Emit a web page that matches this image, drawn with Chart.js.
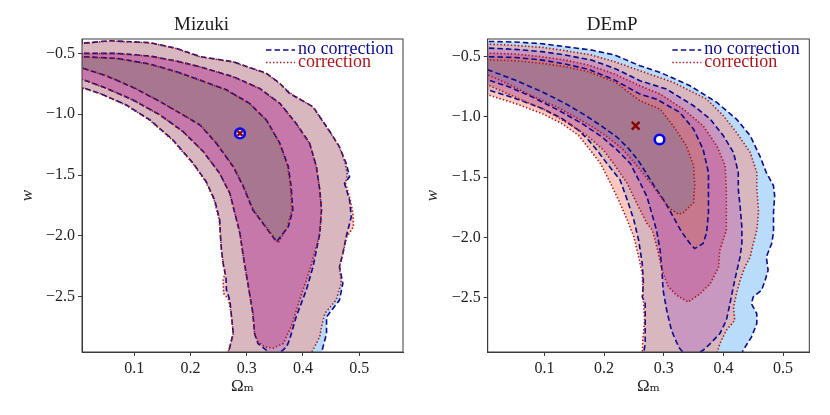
<!DOCTYPE html>
<html lang="en">
<head>
<meta charset="UTF-8">
<title>Mizuki / DEmP contours</title>
<style>
  body { margin: 0; background: #fff; }
  .panel { position: absolute; top: 0; width: 415px; height: 415px; }
  #left { left: 0; }
  #right { left: 415px; }
</style>
<script src="https://cdn.jsdelivr.net/npm/chart.js"></script>
</head>
<body>
<div class="panel" id="left"><canvas id="mizukiChart"></canvas></div>
<div class="panel" id="right"><canvas id="dempChart"></canvas></div>
<script>
// ---- data (Omega_m, w) ----
const panelTitles = ['Mizuki', 'DEmP'];
const legendLabels = ['no correction', 'correction'];
const xTicks = [0.1, 0.2, 0.3, 0.4, 0.5];
const xTickLabels = ['0.1', '0.2', '0.3', '0.4', '0.5'];
const yTicks = [-0.5, -1.0, -1.5, -2.0, -2.5];
const yTickLabels = ['\u22120.5', '\u22121.0', '\u22121.5', '\u22122.0', '\u22122.5'];

const mizukiXRange = [0.007, 0.578];
const mizukiYRange = [-2.955, -0.382];
const dempXRange = [0.005, 0.544];
const dempYRange = [-2.95, -0.353];

// best-fit points
const mizukiBestNoCorr = [0.288, -1.158];
const mizukiBestCorr = [0.288, -1.158];
const dempBestNoCorr = [0.293, -1.187];
const dempBestCorr = [0.253, -1.073];

// Mizuki contours (3 = outer, 1 = inner)
const mizukiBlue3 = [[-0.05,-0.41],[0.006,-0.418],[0.057,-0.396],[0.128,-0.412],[0.175,-0.459],[0.217,-0.527],[0.276,-0.569],[0.335,-0.664],[0.359,-0.747],[0.376,-0.829],[0.418,-0.939],[0.430,-1.021],[0.448,-1.144],[0.465,-1.268],[0.477,-1.405],[0.483,-1.514],[0.474,-1.569],[0.483,-1.706],[0.486,-1.843],[0.477,-2.008],[0.471,-2.145],[0.465,-2.254],[0.471,-2.391],[0.465,-2.528],[0.442,-2.666],[0.442,-2.803],[0.433,-2.962],[0.43,-3.2],[0.267,-3.2],[0.267,-2.967],[0.270,-2.912],[0.276,-2.803],[0.273,-2.666],[0.270,-2.528],[0.264,-2.446],[0.263,-2.337],[0.259,-2.254],[0.255,-2.117],[0.253,-1.980],[0.252,-1.871],[0.243,-1.706],[0.228,-1.555],[0.205,-1.405],[0.169,-1.213],[0.128,-1.048],[0.086,-0.925],[0.039,-0.829],[0.006,-0.780],[-0.05,-0.76]];
const mizukiRed3 = [[-0.05,-0.41],[0.006,-0.420],[0.057,-0.398],[0.128,-0.414],[0.175,-0.461],[0.217,-0.529],[0.276,-0.571],[0.335,-0.666],[0.359,-0.750],[0.371,-0.800],[0.380,-0.835],[0.418,-0.942],[0.430,-1.024],[0.448,-1.147],[0.465,-1.271],[0.475,-1.400],[0.479,-1.500],[0.476,-1.570],[0.484,-1.700],[0.489,-1.816],[0.490,-1.925],[0.478,-2.010],[0.471,-2.145],[0.465,-2.254],[0.468,-2.391],[0.459,-2.528],[0.439,-2.638],[0.433,-2.748],[0.430,-2.830],[0.415,-2.962],[0.41,-3.2],[0.265,-3.2],[0.266,-2.967],[0.270,-2.912],[0.276,-2.803],[0.273,-2.666],[0.268,-2.528],[0.259,-2.474],[0.258,-2.364],[0.262,-2.300],[0.259,-2.254],[0.255,-2.117],[0.253,-1.980],[0.251,-1.871],[0.242,-1.706],[0.227,-1.555],[0.204,-1.405],[0.168,-1.213],[0.127,-1.048],[0.085,-0.925],[0.039,-0.831],[0.006,-0.782],[-0.05,-0.76]];
const mizukiBlue2 = [[-0.05,-0.49],[0.006,-0.500],[0.069,-0.500],[0.128,-0.522],[0.175,-0.563],[0.217,-0.610],[0.276,-0.692],[0.323,-0.788],[0.359,-0.911],[0.388,-1.076],[0.412,-1.240],[0.424,-1.432],[0.430,-1.624],[0.433,-1.788],[0.430,-1.980],[0.418,-2.254],[0.406,-2.446],[0.388,-2.666],[0.376,-2.857],[0.371,-2.912],[0.359,-2.962],[0.352,-2.99],[0.340,-2.99],[0.335,-2.940],[0.320,-2.885],[0.314,-2.803],[0.311,-2.638],[0.302,-2.391],[0.294,-2.172],[0.288,-1.980],[0.279,-1.816],[0.270,-1.651],[0.252,-1.487],[0.223,-1.309],[0.187,-1.144],[0.146,-1.007],[0.098,-0.884],[0.051,-0.788],[0.006,-0.711],[-0.05,-0.69]];
const mizukiRed2 = [[-0.05,-0.49],[0.006,-0.502],[0.069,-0.502],[0.128,-0.524],[0.175,-0.565],[0.217,-0.612],[0.276,-0.694],[0.323,-0.790],[0.359,-0.913],[0.388,-1.078],[0.412,-1.242],[0.424,-1.434],[0.430,-1.626],[0.433,-1.790],[0.430,-1.982],[0.412,-2.282],[0.394,-2.528],[0.379,-2.748],[0.365,-2.885],[0.347,-2.923],[0.332,-2.912],[0.320,-2.871],[0.314,-2.803],[0.311,-2.640],[0.302,-2.393],[0.294,-2.174],[0.288,-1.982],[0.279,-1.818],[0.270,-1.653],[0.252,-1.489],[0.223,-1.311],[0.187,-1.146],[0.146,-1.009],[0.098,-0.886],[0.051,-0.790],[0.006,-0.713],[-0.05,-0.69]];
const mizukiBlue1 = [[-0.05,-0.52],[0.006,-0.527],[0.069,-0.541],[0.128,-0.588],[0.175,-0.651],[0.217,-0.720],[0.264,-0.800],[0.305,-0.911],[0.335,-1.048],[0.359,-1.240],[0.374,-1.432],[0.379,-1.596],[0.382,-1.788],[0.374,-1.925],[0.353,-2.049],[0.329,-1.898],[0.311,-1.788],[0.294,-1.596],[0.276,-1.432],[0.246,-1.240],[0.217,-1.089],[0.187,-1.007],[0.146,-0.897],[0.098,-0.780],[0.051,-0.686],[0.006,-0.618],[-0.05,-0.60]];
const mizukiRed1 = [[-0.05,-0.52],[0.006,-0.529],[0.069,-0.543],[0.128,-0.590],[0.175,-0.653],[0.217,-0.722],[0.264,-0.802],[0.305,-0.913],[0.335,-1.050],[0.359,-1.242],[0.373,-1.434],[0.378,-1.598],[0.380,-1.790],[0.372,-1.930],[0.356,-2.060],[0.330,-1.900],[0.312,-1.790],[0.295,-1.598],[0.277,-1.434],[0.247,-1.242],[0.218,-1.091],[0.188,-1.009],[0.147,-0.899],[0.099,-0.782],[0.052,-0.688],[0.006,-0.620],[-0.05,-0.60]];

// DEmP contours
const dempBlue3 = [[-0.05,-0.37],[0.005,-0.373],[0.051,-0.378],[0.096,-0.392],[0.135,-0.417],[0.179,-0.445],[0.218,-0.486],[0.260,-0.575],[0.294,-0.630],[0.344,-0.741],[0.389,-0.879],[0.422,-1.018],[0.445,-1.156],[0.461,-1.322],[0.472,-1.461],[0.484,-1.571],[0.486,-1.654],[0.484,-1.793],[0.484,-1.959],[0.481,-2.050],[0.472,-2.161],[0.475,-2.272],[0.470,-2.355],[0.464,-2.438],[0.450,-2.493],[0.447,-2.549],[0.456,-2.632],[0.456,-2.715],[0.447,-2.826],[0.433,-2.936],[0.431,-2.970],[0.43,-3.2],[0.266,-3.2],[0.266,-2.970],[0.269,-2.881],[0.269,-2.715],[0.269,-2.549],[0.264,-2.493],[0.266,-2.383],[0.264,-2.216],[0.258,-2.023],[0.250,-1.857],[0.239,-1.690],[0.227,-1.524],[0.205,-1.386],[0.188,-1.275],[0.174,-1.192],[0.157,-1.109],[0.129,-1.012],[0.096,-0.929],[0.051,-0.846],[0.005,-0.774],[-0.05,-0.76]];
const dempRed3 = [[-0.05,-0.39],[0.005,-0.395],[0.051,-0.406],[0.096,-0.422],[0.135,-0.450],[0.179,-0.486],[0.218,-0.542],[0.260,-0.616],[0.316,-0.713],[0.372,-0.852],[0.400,-0.990],[0.422,-1.128],[0.445,-1.295],[0.456,-1.461],[0.456,-1.599],[0.459,-1.793],[0.456,-1.940],[0.450,-2.050],[0.445,-2.161],[0.436,-2.244],[0.428,-2.355],[0.422,-2.466],[0.417,-2.576],[0.419,-2.687],[0.405,-2.770],[0.394,-2.881],[0.389,-2.970],[0.39,-3.2],[0.264,-3.2],[0.264,-2.970],[0.265,-2.853],[0.268,-2.687],[0.266,-2.521],[0.265,-2.410],[0.264,-2.300],[0.258,-2.161],[0.250,-1.995],[0.239,-1.857],[0.227,-1.718],[0.211,-1.552],[0.194,-1.386],[0.177,-1.275],[0.157,-1.151],[0.129,-1.054],[0.096,-0.971],[0.051,-0.888],[0.005,-0.816],[-0.05,-0.80]];
const dempBlue2 = [[-0.05,-0.425],[0.005,-0.428],[0.051,-0.439],[0.096,-0.458],[0.135,-0.486],[0.179,-0.528],[0.218,-0.597],[0.260,-0.699],[0.305,-0.769],[0.350,-0.907],[0.378,-1.018],[0.400,-1.156],[0.417,-1.295],[0.425,-1.461],[0.425,-1.599],[0.428,-1.738],[0.431,-1.912],[0.431,-2.050],[0.428,-2.161],[0.419,-2.355],[0.411,-2.549],[0.405,-2.687],[0.394,-2.798],[0.378,-2.881],[0.366,-2.936],[0.352,-2.975],[0.336,-2.975],[0.325,-2.909],[0.313,-2.770],[0.305,-2.604],[0.299,-2.438],[0.297,-2.272],[0.294,-2.106],[0.288,-1.940],[0.280,-1.801],[0.272,-1.663],[0.261,-1.552],[0.244,-1.386],[0.222,-1.275],[0.196,-1.164],[0.163,-1.054],[0.123,-0.943],[0.079,-0.832],[0.040,-0.749],[0.005,-0.691],[-0.05,-0.68]];
const dempRed2 = [[-0.05,-0.465],[0.005,-0.470],[0.051,-0.478],[0.096,-0.500],[0.135,-0.528],[0.174,-0.569],[0.218,-0.644],[0.260,-0.741],[0.294,-0.810],[0.333,-0.935],[0.366,-1.073],[0.389,-1.239],[0.403,-1.405],[0.405,-1.599],[0.405,-1.793],[0.405,-1.940],[0.394,-2.106],[0.392,-2.244],[0.378,-2.383],[0.361,-2.466],[0.341,-2.535],[0.322,-2.480],[0.308,-2.410],[0.297,-2.272],[0.290,-2.106],[0.281,-1.940],[0.272,-1.884],[0.255,-1.718],[0.239,-1.552],[0.216,-1.386],[0.199,-1.275],[0.174,-1.164],[0.140,-1.054],[0.101,-0.943],[0.056,-0.846],[0.005,-0.733],[-0.05,-0.72]];
const dempBlue1 = [[-0.05,-0.498],[0.005,-0.500],[0.051,-0.506],[0.096,-0.528],[0.135,-0.561],[0.174,-0.605],[0.218,-0.694],[0.260,-0.810],[0.288,-0.852],[0.327,-0.962],[0.350,-1.101],[0.366,-1.267],[0.375,-1.461],[0.375,-1.599],[0.375,-1.793],[0.372,-1.959],[0.366,-2.050],[0.352,-2.092],[0.344,-2.050],[0.330,-1.954],[0.316,-1.829],[0.302,-1.704],[0.285,-1.580],[0.271,-1.469],[0.257,-1.358],[0.241,-1.261],[0.221,-1.164],[0.196,-1.076],[0.168,-0.984],[0.135,-0.888],[0.096,-0.791],[0.051,-0.694],[0.005,-0.608],[-0.05,-0.60]];
const dempRed1 = [[-0.05,-0.52],[0.005,-0.525],[0.051,-0.533],[0.096,-0.555],[0.135,-0.583],[0.174,-0.625],[0.218,-0.708],[0.260,-0.865],[0.294,-0.935],[0.316,-1.073],[0.338,-1.239],[0.350,-1.405],[0.352,-1.571],[0.350,-1.710],[0.333,-1.793],[0.325,-1.807],[0.313,-1.768],[0.299,-1.690],[0.283,-1.580],[0.269,-1.491],[0.252,-1.386],[0.230,-1.261],[0.207,-1.170],[0.185,-1.095],[0.151,-0.998],[0.118,-0.910],[0.073,-0.810],[0.040,-0.727],[0.005,-0.650],[-0.05,-0.64]];

// ---- styling ----
const serif = '"Liberation Serif", "DejaVu Serif", serif';
const blueLine = '#0c0c8c';
const redLine = '#a8181c';
const blueFills = ['rgb(184,220,250)', 'rgb(151,159,255)', 'rgb(151,159,168)'];        // outer, middle, inner
const redFills = ['rgba(249,145,129,0.5)', 'rgba(200,45,120,0.3)', 'rgba(93,120,153,0.3)'];
const blueDash = [5.5, 3];
const redDash = [1.4, 2.1];

const panels = [
  { canvas: 'mizukiChart', title: panelTitles[0], xRange: mizukiXRange, yRange: mizukiYRange,
    blue: [mizukiBlue3, mizukiBlue2, mizukiBlue1], red: [mizukiRed3, mizukiRed2, mizukiRed1],
    bestBlue: mizukiBestNoCorr, bestRed: mizukiBestCorr,
    yAxisWidth: 82, padRight: 12, yTitlePad: 17.8, crossRadius: 3.6 },
  { canvas: 'dempChart', title: panelTitles[1], xRange: dempXRange, yRange: dempYRange,
    blue: [dempBlue3, dempBlue2, dempBlue1], red: [dempRed3, dempRed2, dempRed1],
    bestBlue: dempBestNoCorr, bestRed: dempBestCorr,
    yAxisWidth: 72.7, padRight: 20.7, yTitlePad: 7.8, crossRadius: 5.5 }
];

const closed = arr => arr.concat([arr[0]]).map(([x, y]) => ({ x, y }));

// box round the plot area
const frame = {
  id: 'frame',
  afterDraw(chart) {
    const { ctx, chartArea: a } = chart;
    ctx.save();
    ctx.strokeStyle = '#3a3a3a';
    ctx.lineWidth = 1;
    ctx.strokeRect(a.left, a.top, a.right - a.left, a.bottom - a.top);
    ctx.restore();
  }
};

// legend in the upper right corner of the plot area
const cornerLegend = {
  id: 'cornerLegend',
  afterDraw(chart) {
    const { ctx, chartArea: a } = chart;
    const colors = [blueLine, redLine];
    const dashes = [blueDash, redDash];
    ctx.save();
    ctx.font = '18px ' + serif;
    ctx.textBaseline = 'alphabetic';
    legendLabels.forEach((label, i) => {
      const y = a.top + 11 + i * 12.5;
      ctx.strokeStyle = colors[i];
      ctx.lineWidth = 1.6;
      ctx.setLineDash(dashes[i]);
      ctx.beginPath();
      ctx.moveTo(a.right - 137, y);
      ctx.lineTo(a.right - 108, y);
      ctx.stroke();
      ctx.fillStyle = colors[i];
      ctx.fillText(label, a.right - 105, y + 4);
    });
    ctx.restore();
  }
};

function buildPanel(p) {
  const datasets = [];
  p.blue.forEach((poly, i) => datasets.push({
    data: closed(poly), showLine: true, fill: 'shape', backgroundColor: blueFills[i],
    borderWidth: 0, pointRadius: 0, order: 100 - i
  }));
  p.red.forEach((poly, i) => datasets.push({
    data: closed(poly), showLine: true, fill: 'shape', backgroundColor: redFills[i],
    borderWidth: 0, pointRadius: 0, order: 90 - i
  }));
  p.blue.forEach((poly, i) => datasets.push({
    data: closed(poly), showLine: true, fill: false, borderColor: blueLine,
    borderWidth: 1.6, borderDash: blueDash, pointRadius: 0, order: 60 - i
  }));
  p.red.forEach((poly, i) => datasets.push({
    data: closed(poly), showLine: true, fill: false, borderColor: redLine,
    borderWidth: 1.6, borderDash: redDash, pointRadius: 0, order: 50 - i
  }));
  datasets.push({
    data: [{ x: p.bestBlue[0], y: p.bestBlue[1] }], pointStyle: 'circle', pointRadius: 4.8,
    pointBorderWidth: 2.6, pointBackgroundColor: '#ffffff', pointBorderColor: '#0000ff', order: 2
  });
  datasets.push({
    data: [{ x: p.bestRed[0], y: p.bestRed[1] }], pointStyle: 'crossRot', pointRadius: p.crossRadius,
    pointBorderWidth: 2.4, pointBorderColor: '#8b0000', pointBackgroundColor: '#8b0000', order: 1
  });

  const axisGrid = { display: true, drawOnChartArea: false, drawTicks: true, tickLength: 4, color: '#3a3a3a' };
  const tickFont = { family: serif, size: 16 };

  new Chart(document.getElementById(p.canvas), {
    type: 'scatter',
    data: { datasets },
    options: {
      responsive: true,
      maintainAspectRatio: false,
      animation: false,
      events: [],
      layout: { padding: { left: 0, right: p.padRight, top: 0, bottom: 0 } },
      plugins: {
        legend: { display: false },
        tooltip: { enabled: false },
        title: {
          display: true, text: p.title, color: '#1a1a1a',
          font: { family: serif, size: 19, weight: 'normal' },
          padding: { top: 13.6, bottom: 2.6 }
        }
      },
      scales: {
        x: {
          type: 'linear', min: p.xRange[0], max: p.xRange[1],
          afterBuildTicks: axis => { axis.ticks = xTicks.map(v => ({ value: v })); },
          afterFit: s => { s.height = 63; },
          grid: axisGrid,
          border: { display: true, color: '#3a3a3a', width: 1 },
          ticks: { font: tickFont, color: '#222', maxRotation: 0, autoSkip: false, padding: 3,
                   callback: (v, i) => xTickLabels[i] },
          title: { display: true, text: '\u03A9\u2098', color: '#222',
                   font: { family: serif, size: 17 }, padding: { top: 0, bottom: 17.8 } }
        },
        y: {
          type: 'linear', min: p.yRange[0], max: p.yRange[1],
          afterBuildTicks: axis => { axis.ticks = yTicks.map(v => ({ value: v })); },
          afterFit: s => { s.width = p.yAxisWidth; },
          grid: axisGrid,
          border: { display: true, color: '#3a3a3a', width: 1 },
          ticks: { font: tickFont, color: '#222', autoSkip: false, padding: 3,
                   callback: (v, i) => yTickLabels[i] },
          title: { display: true, text: 'w', color: '#222',
                   font: { family: serif, size: 17, style: 'italic' }, padding: { top: p.yTitlePad, bottom: 0 } }
        }
      }
    },
    plugins: [frame, cornerLegend]
  });
}

panels.forEach(buildPanel);
</script>
</body>
</html>
